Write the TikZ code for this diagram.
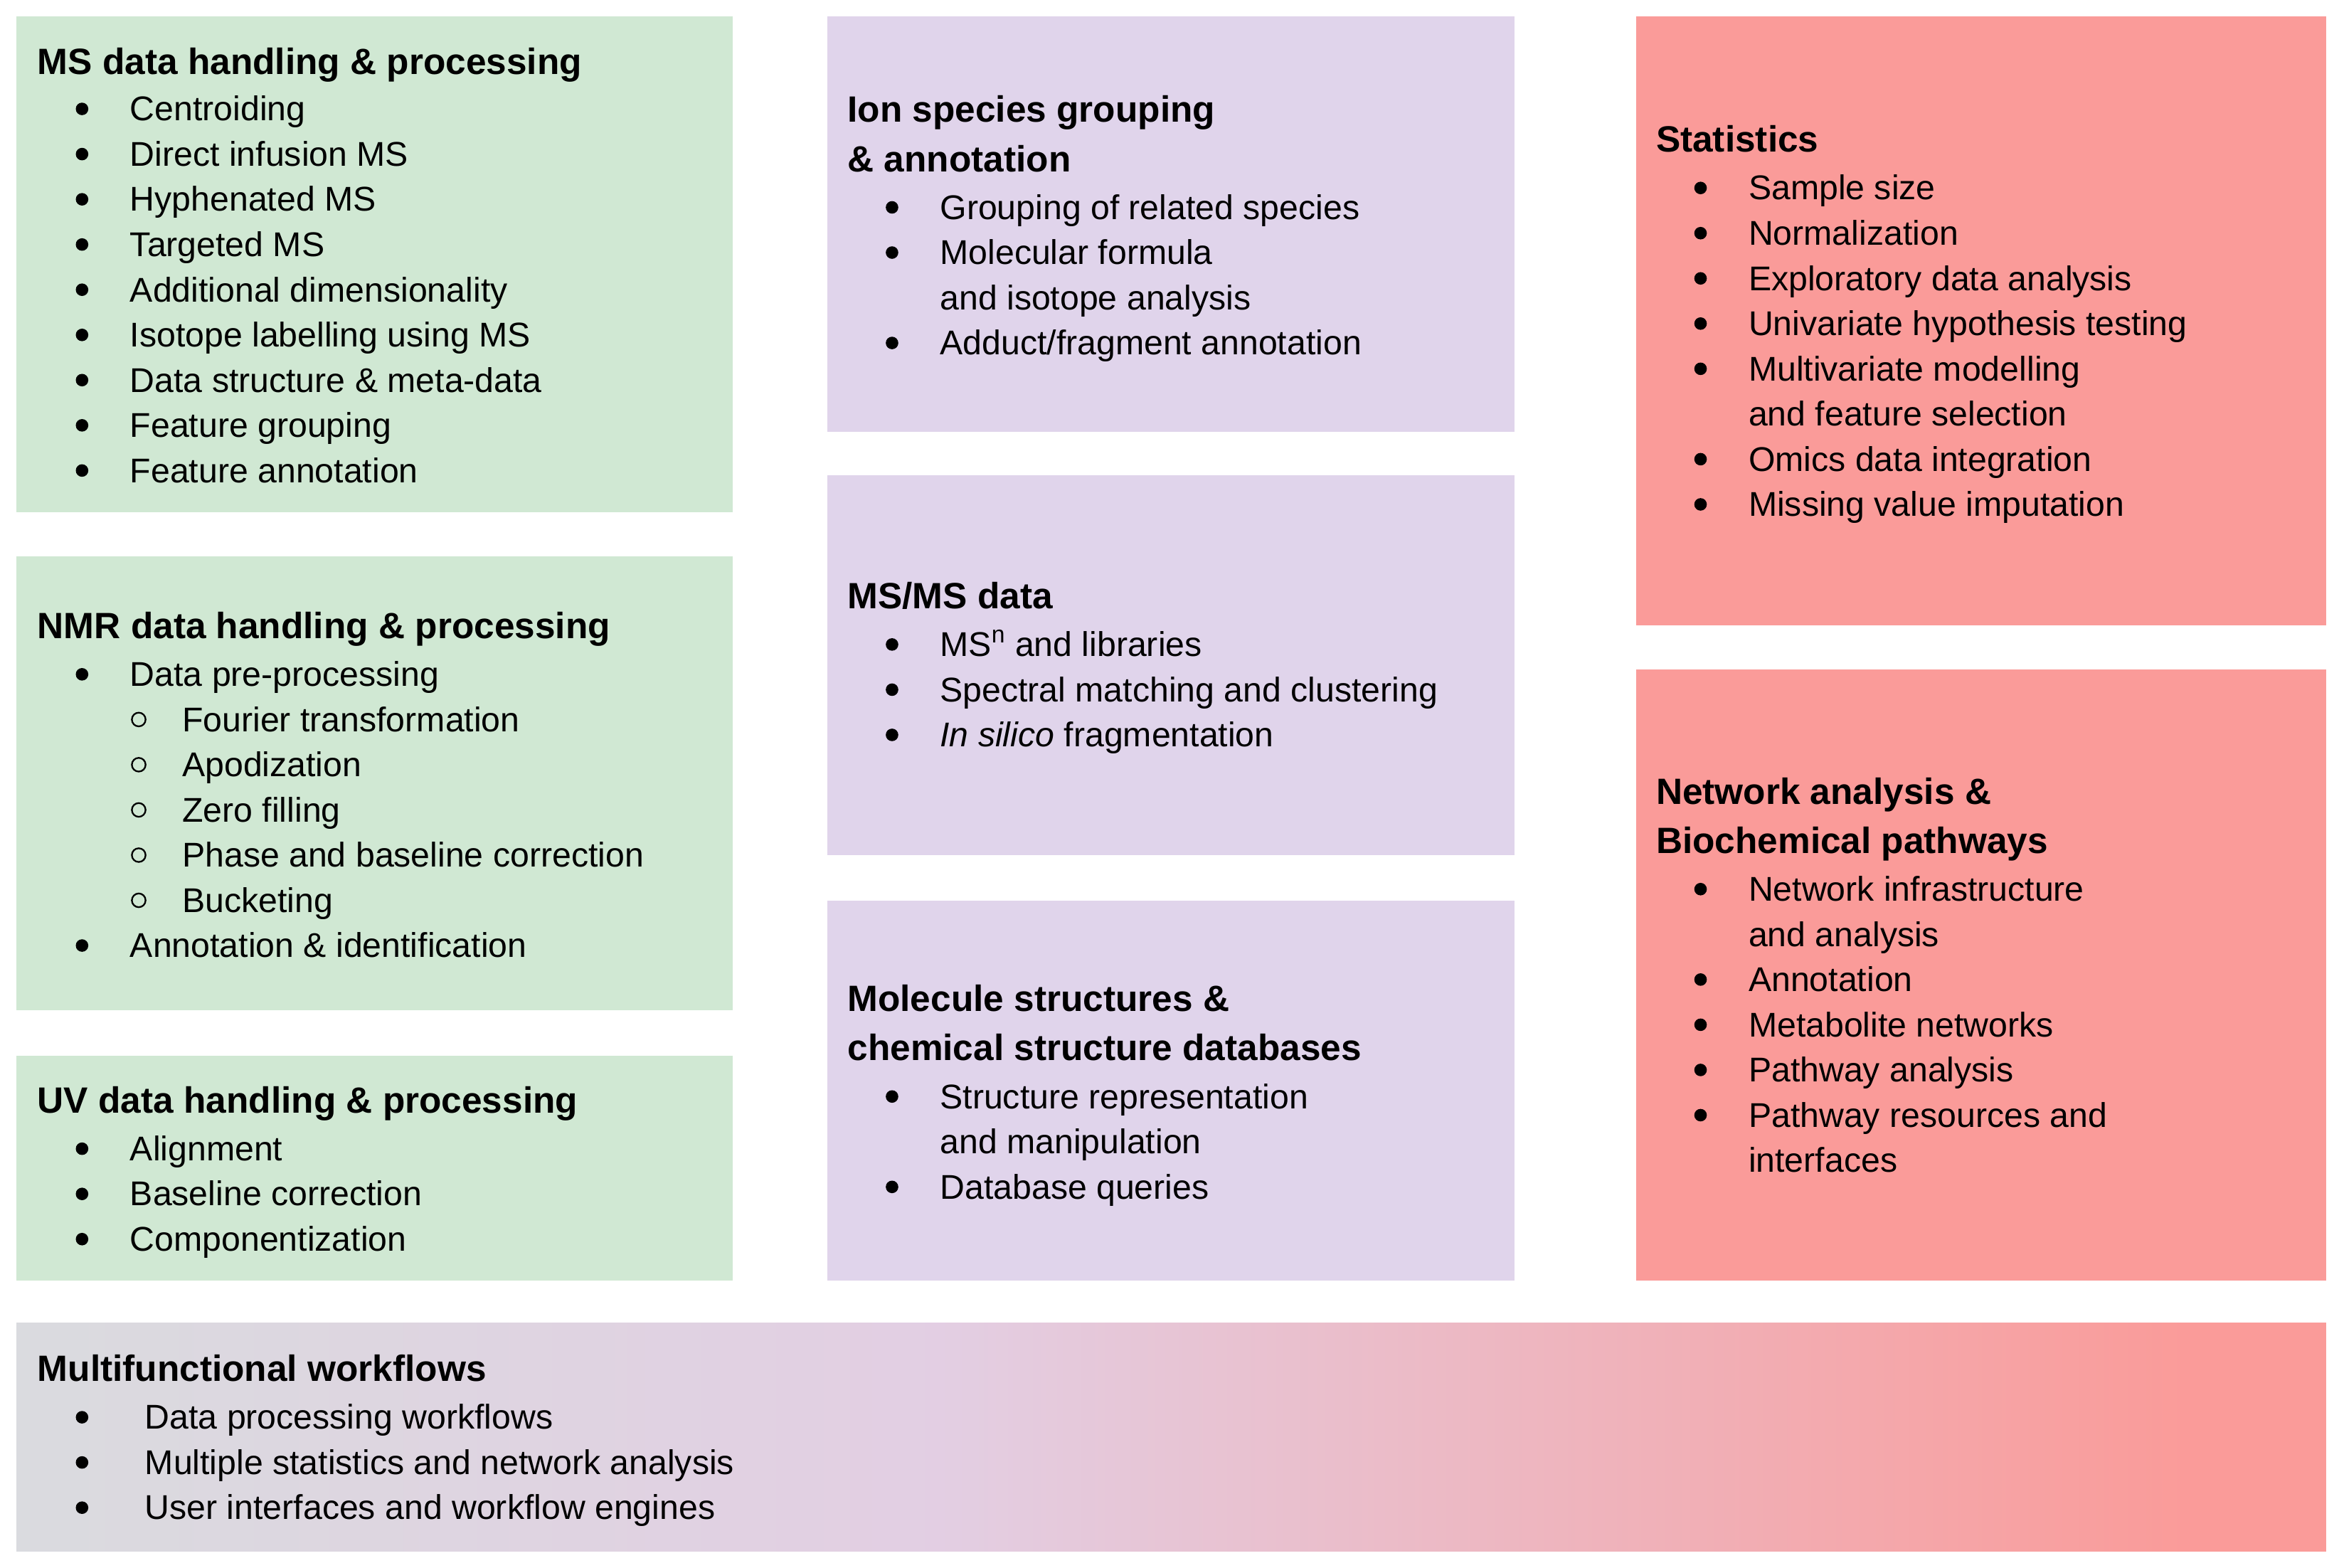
\documentclass[tikz,border=0pt]{standalone}
\usepackage{fontspec}
\setmainfont{Liberation Sans}
\definecolor{grn}{RGB}{208,232,211}
\definecolor{pur}{RGB}{224,212,235}
\definecolor{rd}{RGB}{250,155,153}
\definecolor{grnb}{RGB}{212,226,216}
\pgfdeclarehorizontalshading{wf}{100bp}{color(0bp)=(grnb); color(20bp)=(grnb!70!pur); color(45bp)=(pur!90!rd); color(72bp)=(rd); color(100bp)=(rd)}
\tikzset{
  box/.style={draw=white, line width=1.5pt},
  txt/.style={anchor=base west, inner sep=0pt, font=\fontsize{23}{28}\selectfont},
  ttl/.style={anchor=base west, inner sep=0pt, font=\fontsize{24.5}{30}\selectfont\bfseries},
}
\newcommand{\bt}[5]{\fill (#1,#3-8) circle (4.2);\node[txt] (#4) at (#2,#3) {#5};}
\newcommand{\st}[5]{\draw[line width=1.1pt] (#1,#3-8) circle (4.6);\node[txt] (#4) at (#2,#3) {#5};}
\newcommand{\tl}[4]{\node[ttl] (#3) at (#1,#2) {#4};}
\begin{document}
\begin{tikzpicture}[x=1pt,y=-1pt]
\useasboundingbox (0,0) rectangle (1568,1051);
\fill[white] (0,0) rectangle (1568,1051);
% boxes
\path[box,fill=grn] (10,10) rectangle (492,344);
\path[box,fill=grn] (10,372) rectangle (492,678);
\path[box,fill=grn] (10,707) rectangle (492,859);
\path[box,fill=pur] (554,10) rectangle (1016,290);
\path[box,fill=pur] (554,318) rectangle (1016,574);
\path[box,fill=pur] (554,603) rectangle (1016,859);
\path[box,fill=rd] (1096,10) rectangle (1560,420);
\path[box,fill=rd] (1096,448) rectangle (1560,859);
\path[box,shading=wf] (10,886) rectangle (1560,1041);
% green 1
\tl{25}{50}{g1t}{MS data handling \& processing}
\bt{55}{87}{81}{g1a}{Centroiding}
\bt{55}{87}{111.3}{g1b}{Direct infusion MS}
\bt{55}{87}{141.6}{g1c}{Hyphenated MS}
\bt{55}{87}{171.9}{g1d}{Targeted MS}
\bt{55}{87}{202.2}{g1e}{Additional dimensionality}
\bt{55}{87}{232.5}{g1f}{Isotope labelling using MS}
\bt{55}{87}{262.8}{g1g}{Data structure \& meta-data}
\bt{55}{87}{293.1}{g1h}{Feature grouping}
\bt{55}{87}{323.4}{g1i}{Feature annotation}
% green 2
\tl{25}{428}{g2t}{NMR data handling \& processing}
\bt{55}{87}{460}{g2a}{Data pre-processing}
\st{93}{122}{490.3}{g2b}{Fourier transformation}
\st{93}{122}{520.6}{g2c}{Apodization}
\st{93}{122}{550.9}{g2d}{Zero filling}
\st{93}{122}{581.2}{g2e}{Phase and baseline correction}
\st{93}{122}{611.5}{g2f}{Bucketing}
\bt{55}{87}{641.8}{g2g}{Annotation \& identification}
% green 3
\tl{25}{746}{g3t}{UV data handling \& processing}
\bt{55}{87}{778}{g3a}{Alignment}
\bt{55}{87}{808.3}{g3b}{Baseline correction}
\bt{55}{87}{838.6}{g3c}{Componentization}
% purple 1
\tl{568}{82}{p1t}{Ion species grouping}
\tl{568}{115}{p1u}{\& annotation}
\bt{598}{630}{147}{p1a}{Grouping of related species}
\bt{598}{630}{177.3}{p1b}{Molecular formula}
\node[txt] (p1c) at (630,207.6) {and isotope analysis};
\bt{598}{630}{237.9}{p1d}{Adduct/fragment annotation}
% purple 2
\tl{568}{408}{p2t}{MS/MS data}
\bt{598}{630}{440}{p2a}{MS\textsuperscript{n} and libraries}
\bt{598}{630}{470.3}{p2b}{Spectral matching and clustering}
\bt{598}{630}{500.6}{p2c}{\textit{In silico} fragmentation}
% purple 3
\tl{568}{678}{p3t}{Molecule structures \&}
\tl{568}{711}{p3u}{chemical structure databases}
\bt{598}{630}{743}{p3a}{Structure representation}
\node[txt] (p3b) at (630,773.3) {and manipulation};
\bt{598}{630}{803.6}{p3c}{Database queries}
% red 1
\tl{1110}{102}{r1t}{Statistics}
\bt{1140}{1172}{134}{r1a}{Sample size}
\bt{1140}{1172}{164.3}{r1b}{Normalization}
\bt{1140}{1172}{194.6}{r1c}{Exploratory data analysis}
\bt{1140}{1172}{224.9}{r1d}{Univariate hypothesis testing}
\bt{1140}{1172}{255.2}{r1e}{Multivariate modelling}
\node[txt] (r1f) at (1172,285.5) {and feature selection};
\bt{1140}{1172}{315.8}{r1g}{Omics data integration}
\bt{1140}{1172}{346.1}{r1h}{Missing value imputation}
% red 2
\tl{1110}{539}{r2t}{Network analysis \&}
\tl{1110}{572}{r2u}{Biochemical pathways}
\bt{1140}{1172}{604}{r2a}{Network infrastructure}
\node[txt] (r2b) at (1172,634.3) {and analysis};
\bt{1140}{1172}{664.6}{r2c}{Annotation}
\bt{1140}{1172}{694.9}{r2d}{Metabolite networks}
\bt{1140}{1172}{725.2}{r2e}{Pathway analysis}
\bt{1140}{1172}{755.5}{r2f}{Pathway resources and}
\node[txt] (r2g) at (1172,785.8) {interfaces};
% bottom
\tl{25}{926}{wt}{Multifunctional workflows}
\bt{55}{97}{958}{wa}{Data processing workflows}
\bt{55}{97}{988.3}{wb}{Multiple statistics and network analysis}
\bt{55}{97}{1018.6}{wc}{User interfaces and workflow engines}
\end{tikzpicture}
\end{document}
